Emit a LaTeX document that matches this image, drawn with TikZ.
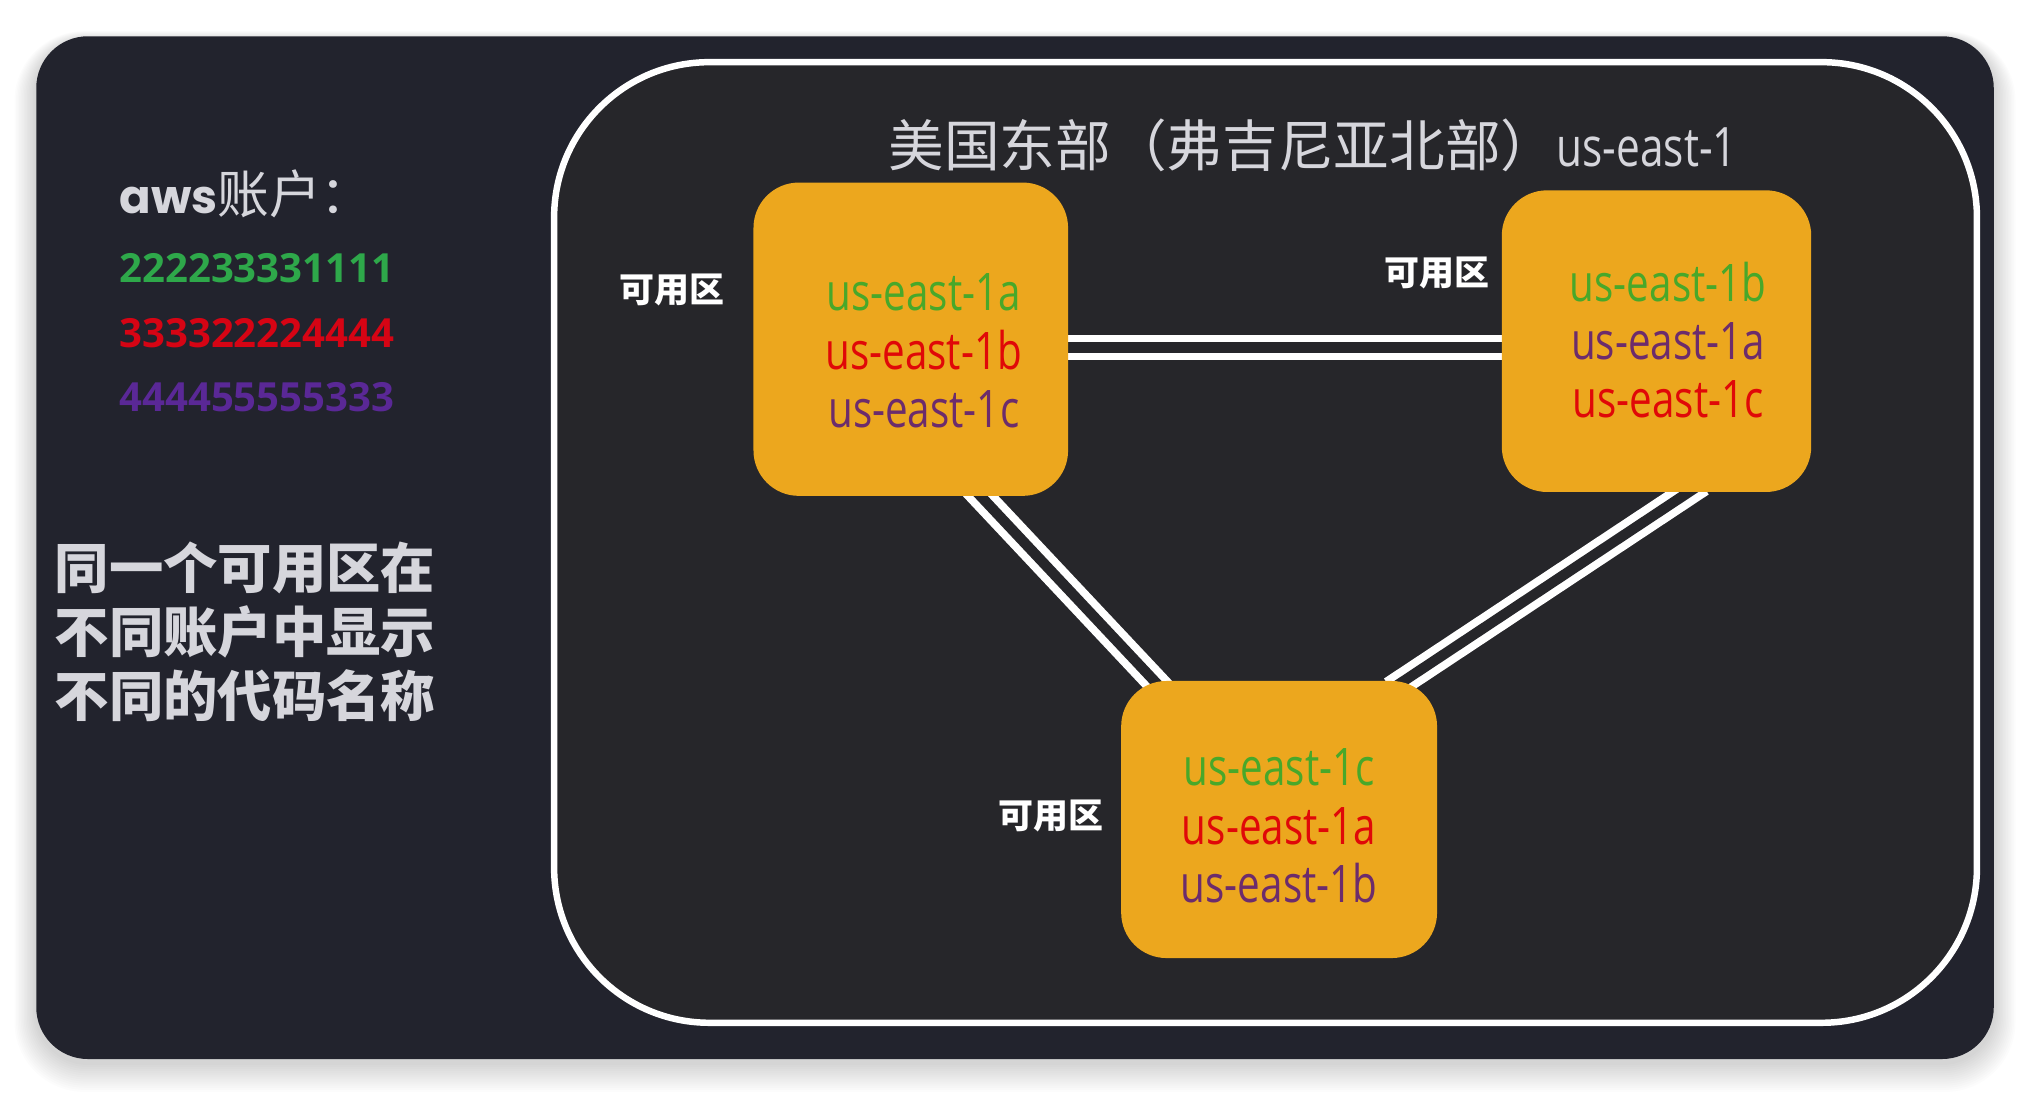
\documentclass[tikz,border=0pt]{standalone}
\usepackage{fontspec}
\setmainfont{Open Sans}
\newfontfamily\cjk{Noto Sans CJK SC}
\newfontfamily\cond[FakeStretch=0.78]{Open Sans}
\newfontfamily\awsfont{Poppins}
\usetikzlibrary{calc}
\pgfdeclarelayer{back}
\pgfdeclarelayer{bg}
\pgfsetlayers{back,bg,main}
\definecolor{panelc}{RGB}{34,35,45}
\definecolor{innerc}{RGB}{38,38,42}
\definecolor{zonec}{RGB}{236,167,30}
\definecolor{ugreen}{RGB}{72,168,42}
\definecolor{ured}{RGB}{224,8,8}
\definecolor{upurple}{RGB}{108,44,108}
\definecolor{ngreen}{RGB}{46,168,74}
\definecolor{nred}{RGB}{214,4,20}
\definecolor{npurple}{RGB}{90,40,150}
\definecolor{lgray}{RGB}{214,214,220}
\begin{document}
\begin{tikzpicture}[x=1pt,y=-1pt,
  zone/.style={fill=zonec, rounded corners=35pt, inner sep=0pt},
  ztext/.style={inner sep=0pt, align=center, font=\cond\fontsize{40}{45}\selectfont},
  zlabel/.style={text=white, inner sep=0pt, font=\cjk\bfseries\fontsize{27}{30}\selectfont},
  link/.style={draw=white, line width=6pt, double=innerc, double distance=8pt,
    shorten <=-12pt, shorten >=-12pt},
  numtext/.style={anchor=west, inner sep=0pt, font=\bfseries\fontsize{31}{36}\selectfont}]
\useasboundingbox (0,0) rectangle (1568,846.6);
\begin{pgfonlayer}{back}
\fill[white] (0,0) rectangle (1568,846.6);
\foreach \i in {1,...,14}{
  \fill[black, opacity=0.010, rounded corners={40pt+\i pt}]
    (28-\i*1.2, 31-\i*0.5) rectangle (1540+\i*1.2, 821+\i*1.6);
}
\fill[panelc, rounded corners=40pt] (28,28) rectangle (1540,818);
\draw[white, line width=5pt, fill=innerc, rounded corners=120pt] (428,48) rectangle (1527,790);
\end{pgfonlayer}

% left side texts
\node[anchor=base west, inner sep=0pt, text=lgray] (aws) at (92,165)
  {{\awsfont\bfseries\fontsize{36}{40}\selectfont aws}{\cjk\fontsize{40}{44}\selectfont 账户：}};
\node[numtext, text=ngreen] (n1) at (92,207) {222233331111};
\node[numtext, text=nred] (n2) at (92,257) {333322224444};
\node[numtext, text=npurple] (n3) at (92,307) {444455555333};
\node[anchor=west, inner sep=0pt, align=left, text=lgray,
  font=\cjk\bfseries\fontsize{42}{49.5}\selectfont] (note) at (42,488)
  {同一个可用区在\\不同账户中显示\\不同的代码名称};

% title
\node[inner sep=0pt, text=lgray] (title) at (1014,112)
  {{\cjk\fontsize{43}{48}\selectfont 美国东部（弗吉尼亚北部）}{\cond\fontsize{42}{48}\selectfont us-east-1}};

% zones
\node[zone, minimum width=243pt, minimum height=242pt] (b1) at (703.5,262) {};
\node[zone, minimum width=239pt, minimum height=233pt] (b2) at (1279.5,263.5) {};
\node[zone, minimum width=244pt, minimum height=214pt] (b3) at (988,633) {};

\node[ztext] (t1) at ($(b1.center)+(10,9)$)
  {{\color{ugreen}us-east-1a}\\{\color{ured}us-east-1b}\\{\color{upurple}us-east-1c}};
\node[ztext] (t2) at ($(b2.center)+(9,-1)$)
  {{\color{ugreen}us-east-1b}\\{\color{upurple}us-east-1a}\\{\color{ured}us-east-1c}};
\node[ztext] (t3) at ($(b3.center)+(0,5)$)
  {{\color{ugreen}us-east-1c}\\{\color{ured}us-east-1a}\\{\color{upurple}us-east-1b}};

\node[zlabel] (l1) at (519,224) {可用区};
\node[zlabel] (l2) at (1110,211) {可用区};
\node[zlabel] (l3) at (812,630) {可用区};

\begin{pgfonlayer}{bg}
\draw[link] (b1.-3) -- (b1.-3 -| b2.west);
\draw[link] (b1.-66) -- (b3.132);
\draw[link] (b2.-78.6) -- (b3.48.4);
\end{pgfonlayer}
\end{tikzpicture}
\end{document}
